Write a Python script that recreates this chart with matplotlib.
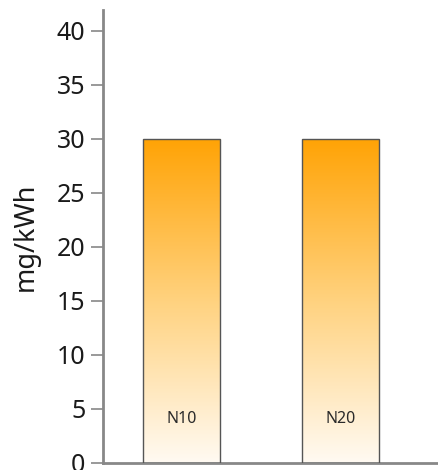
import numpy as np
import matplotlib
matplotlib.use('Agg')
import matplotlib.pyplot as plt
from matplotlib.colors import LinearSegmentedColormap

plt.rc('font', family='Noto Sans')

categories = ['N10', 'N20']
values = [30, 30]
label_y = 3.7
y_ticks = [0, 5, 10, 15, 20, 25, 30, 35, 40]

fig = plt.figure(figsize=(4.39, 4.70), dpi=100)
ax = fig.add_axes([103/439, 7/470, 1 - 103/439, 453/470])

cmap = LinearSegmentedColormap.from_list('bar', ['#fffaf2', '#ffd27f', '#ffa305'])
grad = np.linspace(0, 1, 256).reshape(-1, 1)

x = np.arange(len(categories))
bars = ax.bar(x, values, width=0.485, color='none', edgecolor='#555555', linewidth=1.0, zorder=3)
for b, name in zip(bars, categories):
    x0 = b.get_x()
    w = b.get_width()
    h = b.get_height()
    im = ax.imshow(grad, cmap=cmap, aspect='auto', origin='lower',
                   extent=[x0, x0 + w, 0, h], zorder=2)
    im.set_clip_path(b)
    ax.text(x0 + w / 2, label_y, name, ha='center', va='baseline', fontsize=11.5, color='#2a2a2a', zorder=4)

ax.set_xlim(-0.494, 1.62)
ax.set_ylim(0, 41.9)
ax.set_yticks(y_ticks)
ax.set_xticks([])
ax.tick_params(axis='y', labelsize=18, length=8.6, width=1.2, color='#888888', pad=4, labelcolor='#1a1a1a')
for s in ['top', 'right']:
    ax.spines[s].set_visible(False)
for s in ['left', 'bottom']:
    ax.spines[s].set_color('#888888')
    ax.spines[s].set_linewidth(2)
ax.set_ylabel('mg/kWh', fontsize=19.5, color='#1a1a1a', labelpad=12)

fig.savefig('out.png', dpi=100)
